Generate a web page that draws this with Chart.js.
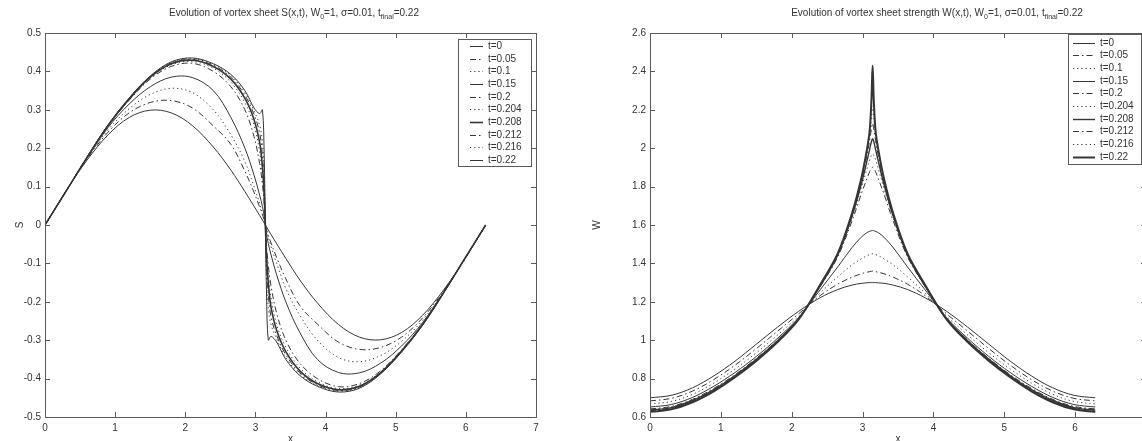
<!DOCTYPE html>
<html lang="en">
<head>
  <meta charset="UTF-8" />
  <title>Vortex sheet evolution</title>
  <script src="https://cdn.jsdelivr.net/npm/chart.js"></script>
  <style>
    body {
      margin: 0;
      background: #fff;
      width: 1142px;
      height: 441px;
      overflow: hidden;
      position: relative;
    }
    .panel {
      position: absolute;
      top: 0;
      height: 441px;
    }
    #leftPanel { left: 0; width: 571px; }
    #rightPanel { left: 571px; width: 590px; }
  </style>
</head>
<body>
  <div class="panel" id="leftPanel"><canvas id="sChart"></canvas></div>
  <div class="panel" id="rightPanel"><canvas id="wChart"></canvas></div>

  <script>
    // ---- data ----
    const timeLabels = ['t=0', 't=0.05', 't=0.1', 't=0.15', 't=0.2', 't=0.204', 't=0.208', 't=0.212', 't=0.216', 't=0.22'];

    const xGrid = [0, 0.3, 0.6, 0.9, 1.2, 1.5, 1.8, 2.1, 2.4, 2.65, 2.85, 2.98, 3.06, 3.10, 3.125, 3.1416,
                   3.1582, 3.1832, 3.2232, 3.3032, 3.4332, 3.6332, 3.8832, 4.1832, 4.4832, 4.7832, 5.0832, 5.3832, 5.6832, 5.9832, 6.2832];

    const xTicks = [0, 1, 2, 3, 4, 5, 6, 7];
    const sTicks = [-0.5, -0.4, -0.3, -0.2, -0.1, 0, 0.1, 0.2, 0.3, 0.4, 0.5];
    const wTicks = [0.6, 0.8, 1, 1.2, 1.4, 1.6, 1.8, 2, 2.2, 2.4, 2.6];

    // S(x,t)
    const sT0    = [0, 0.089, 0.169, 0.235, 0.280, 0.299, 0.292, 0.259, 0.203, 0.143, 0.087, 0.049, 0.025, 0.013, 0.005, 0, -0.005, -0.013, -0.025, -0.049, -0.087, -0.143, -0.203, -0.259, -0.292, -0.299, -0.280, -0.235, -0.169, -0.089, 0];
    const sT005  = [0, 0.088, 0.172, 0.242, 0.292, 0.319, 0.324, 0.305, 0.258, 0.210, 0.140, 0.085, 0.047, 0.027, 0.012, 0, -0.012, -0.027, -0.047, -0.085, -0.140, -0.210, -0.258, -0.305, -0.324, -0.319, -0.292, -0.242, -0.172, -0.088, 0];
    const sT01   = [0, 0.088, 0.174, 0.248, 0.303, 0.340, 0.356, 0.345, 0.300, 0.235, 0.165, 0.100, 0.056, 0.032, 0.015, 0, -0.015, -0.032, -0.056, -0.100, -0.165, -0.235, -0.300, -0.345, -0.356, -0.340, -0.303, -0.248, -0.174, -0.088, 0];
    const sT015  = [0, 0.088, 0.175, 0.254, 0.315, 0.360, 0.385, 0.384, 0.350, 0.280, 0.200, 0.130, 0.078, 0.048, 0.024, 0, -0.024, -0.048, -0.078, -0.130, -0.200, -0.280, -0.350, -0.384, -0.385, -0.360, -0.315, -0.254, -0.175, -0.088, 0];
    const sT02   = [0, 0.088, 0.176, 0.258, 0.325, 0.380, 0.413, 0.421, 0.400, 0.360, 0.300, 0.230, 0.160, 0.105, 0.055, 0, -0.055, -0.105, -0.160, -0.230, -0.300, -0.360, -0.400, -0.421, -0.413, -0.380, -0.325, -0.258, -0.176, -0.088, 0];
    const sT0204 = [0, 0.088, 0.176, 0.259, 0.327, 0.383, 0.417, 0.426, 0.408, 0.372, 0.318, 0.260, 0.190, 0.125, 0.065, 0, -0.065, -0.125, -0.190, -0.260, -0.318, -0.372, -0.408, -0.426, -0.417, -0.383, -0.327, -0.259, -0.176, -0.088, 0];
    const sT0208 = [0, 0.088, 0.176, 0.259, 0.328, 0.385, 0.420, 0.429, 0.413, 0.380, 0.330, 0.275, 0.215, 0.150, 0.080, 0, -0.080, -0.150, -0.215, -0.275, -0.330, -0.380, -0.413, -0.429, -0.420, -0.385, -0.328, -0.259, -0.176, -0.088, 0];
    const sT0212 = [0, 0.088, 0.177, 0.260, 0.329, 0.386, 0.422, 0.431, 0.416, 0.385, 0.338, 0.288, 0.240, 0.180, 0.100, 0, -0.100, -0.180, -0.240, -0.288, -0.338, -0.385, -0.416, -0.431, -0.422, -0.386, -0.329, -0.260, -0.177, -0.088, 0];
    const sT0216 = [0, 0.088, 0.177, 0.260, 0.330, 0.387, 0.423, 0.433, 0.418, 0.389, 0.345, 0.297, 0.260, 0.215, 0.130, 0, -0.130, -0.215, -0.260, -0.297, -0.345, -0.389, -0.418, -0.433, -0.423, -0.387, -0.330, -0.260, -0.177, -0.088, 0];
    const sT022  = [0, 0.088, 0.177, 0.261, 0.331, 0.388, 0.425, 0.435, 0.420, 0.392, 0.350, 0.305, 0.290, 0.300, 0.180, 0, -0.180, -0.300, -0.290, -0.305, -0.350, -0.392, -0.420, -0.435, -0.425, -0.388, -0.331, -0.261, -0.177, -0.088, 0];

    // W(x,t)
    const wT0    = [0.700, 0.713, 0.752, 0.814, 0.891, 0.979, 1.068, 1.151, 1.221, 1.264, 1.287, 1.296, 1.299, 1.300, 1.300, 1.300, 1.300, 1.300, 1.299, 1.296, 1.287, 1.264, 1.221, 1.151, 1.068, 0.979, 0.891, 0.814, 0.752, 0.713, 0.700];
    const wT005  = [0.684, 0.697, 0.735, 0.795, 0.870, 0.956, 1.047, 1.138, 1.232, 1.292, 1.328, 1.346, 1.354, 1.357, 1.359, 1.360, 1.359, 1.357, 1.354, 1.346, 1.328, 1.292, 1.232, 1.138, 1.047, 0.956, 0.870, 0.795, 0.735, 0.697, 0.684];
    const wT01   = [0.668, 0.681, 0.718, 0.777, 0.850, 0.934, 1.027, 1.126, 1.245, 1.330, 1.392, 1.423, 1.440, 1.446, 1.449, 1.450, 1.449, 1.446, 1.440, 1.423, 1.392, 1.330, 1.245, 1.126, 1.027, 0.934, 0.850, 0.777, 0.718, 0.681, 0.668];
    const wT015  = [0.652, 0.665, 0.702, 0.760, 0.832, 0.915, 1.010, 1.118, 1.262, 1.382, 1.482, 1.536, 1.560, 1.567, 1.570, 1.572, 1.570, 1.567, 1.560, 1.536, 1.482, 1.382, 1.262, 1.118, 1.010, 0.915, 0.832, 0.760, 0.702, 0.665, 0.652];
    const wT02   = [0.642, 0.655, 0.692, 0.749, 0.821, 0.905, 1.001, 1.115, 1.278, 1.435, 1.620, 1.760, 1.840, 1.878, 1.895, 1.900, 1.895, 1.878, 1.840, 1.760, 1.620, 1.435, 1.278, 1.115, 1.001, 0.905, 0.821, 0.749, 0.692, 0.655, 0.642];
    const wT0204 = [0.639, 0.652, 0.689, 0.746, 0.818, 0.902, 0.999, 1.114, 1.280, 1.440, 1.635, 1.790, 1.890, 1.940, 1.962, 1.970, 1.962, 1.940, 1.890, 1.790, 1.635, 1.440, 1.280, 1.114, 0.999, 0.902, 0.818, 0.746, 0.689, 0.652, 0.639];
    const wT0208 = [0.636, 0.649, 0.686, 0.743, 0.815, 0.900, 0.997, 1.113, 1.282, 1.444, 1.645, 1.810, 1.930, 1.995, 2.035, 2.050, 2.035, 1.995, 1.930, 1.810, 1.645, 1.444, 1.282, 1.113, 0.997, 0.900, 0.815, 0.743, 0.686, 0.649, 0.636];
    const wT0212 = [0.633, 0.646, 0.683, 0.740, 0.812, 0.897, 0.995, 1.112, 1.284, 1.447, 1.652, 1.825, 1.960, 2.040, 2.100, 2.130, 2.100, 2.040, 1.960, 1.825, 1.652, 1.447, 1.284, 1.112, 0.995, 0.897, 0.812, 0.740, 0.683, 0.646, 0.633];
    const wT0216 = [0.630, 0.643, 0.680, 0.737, 0.810, 0.895, 0.993, 1.111, 1.286, 1.450, 1.657, 1.835, 1.975, 2.065, 2.160, 2.220, 2.160, 2.065, 1.975, 1.835, 1.657, 1.450, 1.286, 1.111, 0.993, 0.895, 0.810, 0.737, 0.680, 0.643, 0.630];
    const wT022  = [0.627, 0.640, 0.677, 0.734, 0.807, 0.892, 0.990, 1.110, 1.288, 1.452, 1.660, 1.840, 1.990, 2.090, 2.250, 2.430, 2.250, 2.090, 1.990, 1.840, 1.660, 1.452, 1.288, 1.110, 0.990, 0.892, 0.807, 0.734, 0.677, 0.640, 0.627];

    const sSeries = [sT0, sT005, sT01, sT015, sT02, sT0204, sT0208, sT0212, sT0216, sT022];
    const wSeries = [wT0, wT005, wT01, wT015, wT02, wT0204, wT0208, wT0212, wT0216, wT022];

    const sTitleParts = [['Evolution of vortex sheet S(x,t), W', 0], ['0', 1], ['=1, \u03c3=0.01, t', 0], ['final', 1], ['=0.22', 0]];
    const wTitleParts = [['Evolution of vortex sheet strength W(x,t), W', 0], ['0', 1], ['=1, \u03c3=0.01, t', 0], ['final', 1], ['=0.22', 0]];

    // ---- look ----
    const FONT = "'Liberation Sans', Arial, Helvetica, sans-serif";
    const INK = '#353535';
    const FRAME = '#5a5a5a';
    const TEXT = '#333';
    const SOLID = [], DASHDOT = [6, 3, 1.5, 3], DOT = [1.2, 3];
    const lineDashes = [SOLID, DASHDOT, DOT, SOLID, DASHDOT, DOT, SOLID, DASHDOT, DOT, SOLID];
    const sWidths = [1, 1, 1, 1, 1, 1, 1.6, 1, 1, 1];
    const wWidths = [1, 1, 1, 1, 1, 1, 1.4, 1, 1, 2];

    const fmt = v => String(Math.round(v * 10) / 10);

    function buildDatasets(series, widths) {
      return series.map((ys, i) => ({
        label: timeLabels[i],
        data: xGrid.map((x, k) => ({ x: x, y: ys[k] })),
        borderColor: INK,
        borderWidth: widths[i],
        borderDash: lineDashes[i],
        pointRadius: 0,
        fill: false,
        tension: 0.35
      }));
    }

    // title with subscripts
    function titlePlugin(parts, cx, cy) {
      return {
        id: 'subTitle',
        afterDraw(chart) {
          const ctx = chart.ctx;
          ctx.save();
          ctx.fillStyle = TEXT;
          ctx.textBaseline = 'middle';
          let total = 0;
          parts.forEach(p => {
            ctx.font = (p[1] ? 7 : 10) + 'px ' + FONT;
            total += ctx.measureText(p[0]).width;
          });
          let x = cx - total / 2;
          parts.forEach(p => {
            ctx.font = (p[1] ? 7 : 10) + 'px ' + FONT;
            ctx.fillText(p[0], x, p[1] ? cy + 4 : cy);
            x += ctx.measureText(p[0]).width;
          });
          ctx.restore();
        }
      };
    }

    // matlab style box with inward ticks
    const frameTicks = {
      id: 'frameTicks',
      afterDatasetsDraw(chart) {
        const { ctx, chartArea: a, scales: { x, y } } = chart;
        ctx.save();
        ctx.strokeStyle = FRAME;
        ctx.lineWidth = 1;
        ctx.strokeRect(Math.round(a.left) + 0.5, Math.round(a.top) + 0.5, Math.round(a.width), Math.round(a.height));
        ctx.beginPath();
        x.ticks.forEach(t => {
          const px = Math.round(x.getPixelForValue(t.value)) + 0.5;
          ctx.moveTo(px, a.bottom); ctx.lineTo(px, a.bottom - 5);
          ctx.moveTo(px, a.top); ctx.lineTo(px, a.top + 5);
        });
        y.ticks.forEach(t => {
          const py = Math.round(y.getPixelForValue(t.value)) + 0.5;
          ctx.moveTo(a.left, py); ctx.lineTo(a.left + 5, py);
          ctx.moveTo(a.right, py); ctx.lineTo(a.right - 5, py);
        });
        ctx.stroke();
        ctx.restore();
      }
    };

    function legendPlugin(box) {
      return {
        id: 'boxLegend',
        afterDraw(chart) {
          const ctx = chart.ctx;
          ctx.save();
          ctx.fillStyle = '#fff';
          ctx.fillRect(box.x, box.y, box.w, box.h);
          ctx.strokeStyle = FRAME;
          ctx.lineWidth = 1;
          ctx.strokeRect(box.x + 0.5, box.y + 0.5, box.w, box.h);
          ctx.font = '10px ' + FONT;
          ctx.textBaseline = 'middle';
          chart.data.datasets.forEach((ds, i) => {
            const yy = Math.round(box.row0 + i * box.gap) + 0.5;
            ctx.setLineDash(ds.borderDash);
            ctx.lineWidth = ds.borderWidth;
            ctx.strokeStyle = ds.borderColor;
            ctx.beginPath();
            ctx.moveTo(box.l1, yy);
            ctx.lineTo(box.l2, yy);
            ctx.stroke();
            ctx.setLineDash([]);
            ctx.fillStyle = TEXT;
            ctx.fillText(ds.label, box.tx, yy);
          });
          ctx.restore();
        }
      };
    }

    function makeChart(id, series, widths, yMin, yMax, yStep, yTitle, yAxisWidth, yTitlePad, padRight, titleParts, titleX, legendBox) {
      return new Chart(document.getElementById(id), {
        type: 'line',
        data: { datasets: buildDatasets(series, widths) },
        options: {
          responsive: true,
          maintainAspectRatio: false,
          animation: false,
          layout: { padding: { top: 33, right: padRight, left: 0, bottom: 0 } },
          plugins: { legend: { display: false }, tooltip: { enabled: false } },
          scales: {
            x: {
              type: 'linear',
              min: xTicks[0],
              max: xTicks[xTicks.length - 1],
              afterBuildTicks: s => { s.ticks = xTicks.map(v => ({ value: v })); },
              ticks: { color: TEXT, font: { size: 10, family: FONT }, padding: 5, maxRotation: 0, callback: fmt },
              grid: { display: false, drawTicks: false },
              border: { display: false },
              title: { display: true, text: 'x', color: TEXT, font: { size: 10, family: FONT }, padding: { top: 0, bottom: -4 } },
              afterFit: s => { s.height = 24; }
            },
            y: {
              type: 'linear',
              min: yMin,
              max: yMax,
              ticks: { stepSize: yStep, color: TEXT, font: { size: 10, family: FONT }, padding: 4, callback: fmt },
              grid: { display: false, drawTicks: false },
              border: { display: false },
              title: { display: true, text: yTitle, color: TEXT, font: { size: 10, family: FONT }, padding: { top: yTitlePad, bottom: 0 } },
              afterFit: s => { s.width = yAxisWidth; }
            }
          }
        },
        plugins: [frameTicks, titlePlugin(titleParts, titleX, 13), legendPlugin(legendBox)]
      });
    }

    makeChart('sChart', sSeries, sWidths, sTicks[0], sTicks[sTicks.length - 1], 0.1, 'S', 45, 14, 35,
      sTitleParts, 294,
      { x: 458, y: 39, w: 73, h: 127, l1: 470, l2: 483, tx: 488, row0: 46, gap: 12.67 });

    makeChart('wChart', wSeries, wWidths, wTicks[0], wTicks[wTicks.length - 1], 0.2, 'W', 79, 20, 15,
      wTitleParts, 366,
      { x: 497, y: 34, w: 73, h: 130, l1: 502, l2: 524, tx: 529, row0: 42.7, gap: 12.67 });
  </script>
</body>
</html>
